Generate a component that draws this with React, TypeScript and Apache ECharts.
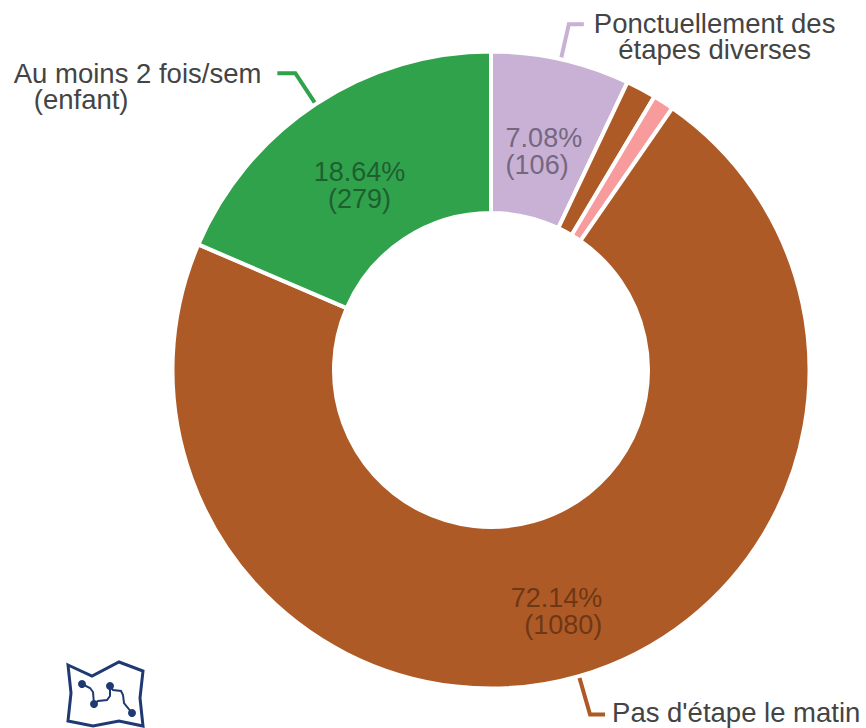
import React, { useEffect, useRef } from "react";
import * as echarts from "echarts";

const categories = [
  "Ponctuellement des\nétapes diverses",
  "Autre",
  "Autre régulier",
  "Pas d'étape le matin",
  "Au moins 2 fois/sem\n(enfant)",
];
const values = [106, 23, 16, 1080, 279];
const percentLabels = ["7.08%", "", "", "72.14%", "18.64%"];
const colors = ["#c9b1d6", "#ae5a27", "#f79b9d", "#ae5a27", "#31a24c"];
const innerLabelColors = ["#75677f", "", "", "#6e3716", "#1e5f30"];

const FONT = "'Liberation Sans', Arial, sans-serif";
const CENTER = [491, 370];
const R = [157, 318.5];

const outerLabelFormat: Record<number, any> = {
  0: {
    formatter: "{c|Ponctuellement des}\n{c|étapes diverses}",
    offset: [0, 12],
    distanceToLabelLine: 10,
    labelLine: { length: 36, length2: 15 },
  },
  3: {
    formatter: "{l|Pas d'étape le matin}",
    offset: [2, -2],
    labelLine: { length: 40, length2: 15 },
  },
  4: {
    formatter: "{l|Au moins 2 fois/sem}\n{p|(enfant)}",
    offset: [0, 13],
    distanceToLabelLine: 16,
    labelLine: { length: 37, length2: 18 },
  },
};
const innerAlign = ["left", "", "", "right", "center"];
const innerOffsets = [[0, 16], [0, 0], [0, 0], [-1, 10], [1, 17]];

export default function App() {
  const ref = useRef<HTMLDivElement>(null);
  useEffect(() => {
    const chart = echarts.init(ref.current!, null, { renderer: "svg" });
    const rich = (color: string) => ({
      c: { align: "center", color, fontSize: 27.5, lineHeight: 26, fontFamily: FONT },
      l: { align: "left", color, fontSize: 27.5, lineHeight: 26, fontFamily: FONT },
      p: { align: "left", color, fontSize: 27.5, lineHeight: 26, fontFamily: FONT, padding: [0, 0, 0, 20] },
    });
    chart.setOption({
      animation: false,
      series: [
        {
          type: "pie",
          silent: true,
          center: CENTER,
          radius: R,
          startAngle: 90,
          avoidLabelOverlap: false,
          itemStyle: { borderColor: "#fff", borderWidth: 4 },
          data: values.map((value, i) => {
            const o = outerLabelFormat[i];
            return {
              name: categories[i],
              value,
              itemStyle: { color: colors[i] },
              label: o
                ? {
                    show: true,
                    position: "outer",
                    overflow: "none",
                    formatter: o.formatter,
                    offset: o.offset,
                    distanceToLabelLine: o.distanceToLabelLine ?? 5,
                    rich: rich("#444444"),
                  }
                : { show: false },
              labelLine: o
                ? {
                    show: true,
                    length: o.labelLine.length,
                    length2: o.labelLine.length2,
                    lineStyle: { color: colors[i], width: 4 },
                  }
                : { show: false },
            };
          }),
        },
        {
          type: "pie",
          silent: true,
          center: CENTER,
          radius: R,
          startAngle: 90,
          avoidLabelOverlap: false,
          itemStyle: { color: "transparent", borderWidth: 0 },
          labelLine: { show: false },
          data: values.map((value, i) => ({
            name: categories[i],
            value,
            label: innerAlign[i]
              ? {
                  show: true,
                  position: "inside",
                  rotate: 0,
                  offset: innerOffsets[i],
                  formatter: `{a|${percentLabels[i]}}\n{a|({c})}`,
                  rich: {
                    a: {
                      align: innerAlign[i],
                      color: innerLabelColors[i],
                      fontSize: 27,
                      lineHeight: 27,
                      fontFamily: FONT,
                    },
                  },
                }
              : { show: false },
          })),
        },
      ],
      graphic: [
        {
          type: "group",
          silent: true,
          children: [
            {
              type: "polygon",
              shape: {
                points: [[68, 665], [92, 676], [119, 662], [143, 671], [140, 698], [143, 726], [119, 721], [93, 726], [68, 721], [71, 693]],
              },
              style: { fill: "none", stroke: "#1f3a73", lineWidth: 3 },
            },
            {
              type: "polyline",
              shape: { points: [[82, 684], [90, 688], [93, 692], [94, 704]] },
              style: { fill: "none", stroke: "#1f3a73", lineWidth: 2 },
            },
            {
              type: "polyline",
              shape: { points: [[94, 704], [98, 701], [107, 700], [110, 696], [110, 686]] },
              style: { fill: "none", stroke: "#1f3a73", lineWidth: 2 },
            },
            {
              type: "polyline",
              shape: { points: [[110, 686], [113, 690], [121, 691], [123, 695], [124, 703], [132, 713]] },
              style: { fill: "none", stroke: "#1f3a73", lineWidth: 2 },
            },
            { type: "circle", shape: { cx: 82, cy: 684, r: 4 }, style: { fill: "#1f3a73" } },
            { type: "circle", shape: { cx: 94, cy: 704, r: 4 }, style: { fill: "#1f3a73" } },
            { type: "circle", shape: { cx: 110, cy: 686, r: 4 }, style: { fill: "#1f3a73" } },
            { type: "circle", shape: { cx: 132, cy: 713, r: 4 }, style: { fill: "#1f3a73" } },
          ],
        },
      ],
    });
    return () => chart.dispose();
  }, []);
  return (
    <div
      ref={ref}
      style={{ position: "absolute", left: 0, top: 0, width: 866, height: 728, background: "#fff" }}
    />
  );
}
